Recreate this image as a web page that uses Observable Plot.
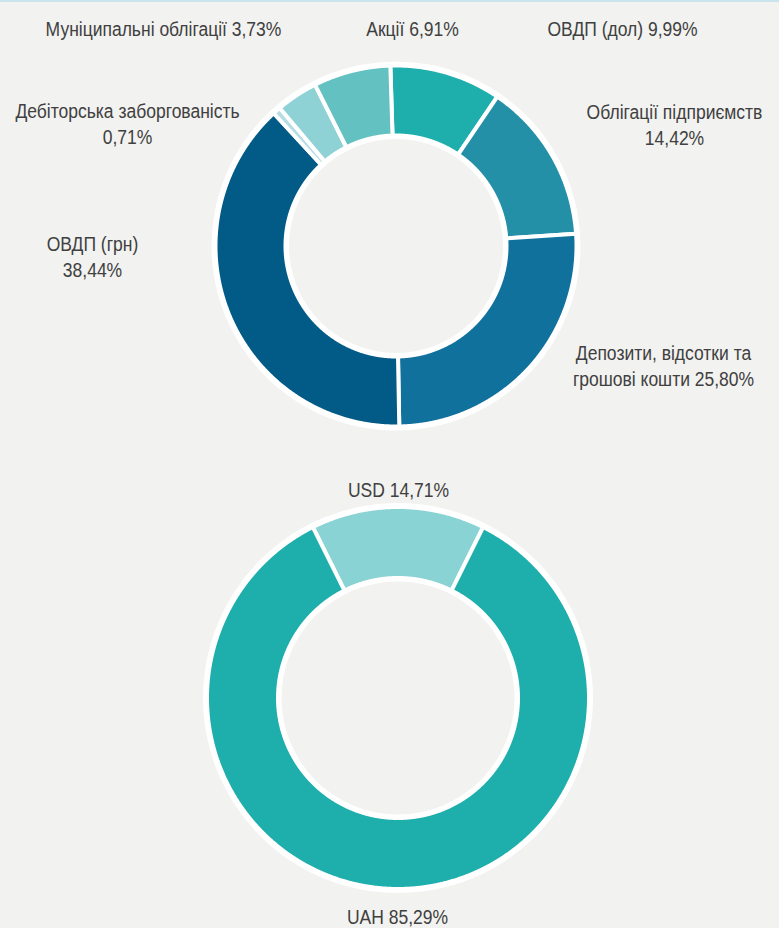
<!DOCTYPE html>
<html><head><meta charset="utf-8">
<script src="https://cdn.jsdelivr.net/npm/d3@7"></script>
<script src="https://cdn.jsdelivr.net/npm/@observablehq/plot@0.6"></script>
<style>
html,body{margin:0;padding:0;background:#f2f2f0;}
#wrap{position:relative;width:779px;height:928px;overflow:hidden;}
#topline{position:absolute;left:0;top:0;width:779px;height:2px;background:#c9e4ec;}
</style></head><body>
<div id="wrap"><div id="chart"></div><div id="topline"></div></div>
<script>
// ---- data ----
const assetNames = ["ОВДП (дол)", "Облігації підприємств\n", "Депозити, відсотки та\nгрошові кошти", "ОВДП (грн)\n", "Дебіторська заборгованість\n", "Муніципальні облігації", "Акції"];
const assetShares = [9.99, 14.42, 25.80, 38.44, 0.71, 3.73, 6.91];
const assetColors = ["#1eaeac", "#2490a8", "#10719c", "#025b87", "#b5dde3", "#8ed2d5", "#63c1c1"];
const currencyNames = ["USD", "UAH"];
const currencyShares = [14.71, 85.29];
const currencyColors = ["#8ad3d5", "#1eaeac"];

// ---- layout (not data) ----
const assetLabelPos = [[622, 27], [674, 123], [663, 364], [92, 255], [127, 122], [163, 27], [412, 27]];
const currencyLabelPos = [[398, 488], [397, 915]];

const fmt = v => d3.format(".2f")(v).replace(".", ",");
const labelText = (n, v) => n.endsWith("\n") ? n + fmt(v) + "%" : n + " " + fmt(v) + "%";

const donuts = [
  {names: assetNames, shares: assetShares, colors: assetColors, pos: assetLabelPos,
   cx: 395.5, cy: 245.5, ri: 110.5, ro: 180.5, start: -1.8},
  {names: currencyNames, shares: currencyShares, colors: currencyColors, pos: currencyLabelPos,
   cx: 397.5, cy: 697.5, ri: 120, ro: 191, start: -currencyShares[0] / 100 * 180}
];

const pts = [], discs = [], holes = [], labels = [];
donuts.forEach((d, di) => {
  discs.push({x: d.cx, y: d.cy, r: d.ro + 4});
  holes.push({x: d.cx, y: d.cy, r: d.ri - 3.5});
  let acc = d.start;
  d.shares.forEach((s, i) => {
    const a0 = acc, a1 = acc + s * 3.6;
    acc = a1;
    const id = di + "-" + i;
    const n = Math.max(2, Math.ceil((a1 - a0) / 0.25));
    const ring = [];
    for (let k = 0; k <= n; k++) {
      const a = (a0 + (a1 - a0) * k / n) * Math.PI / 180;
      ring.push([d.cx + d.ro * Math.sin(a), d.cy - d.ro * Math.cos(a)]);
    }
    for (let k = n; k >= 0; k--) {
      const a = (a0 + (a1 - a0) * k / n) * Math.PI / 180;
      ring.push([d.cx + d.ri * Math.sin(a), d.cy - d.ri * Math.cos(a)]);
    }
    ring.push(ring[0]);
    ring.forEach(([x, y]) => pts.push({id, x, y, color: d.colors[i]}));
    labels.push({x: d.pos[i][0], y: d.pos[i][1], text: labelText(d.names[i], s)});
  });
});

const chart = Plot.plot({
  width: 779, height: 928, margin: 0,
  x: {domain: [0, 779], range: [0, 779], axis: null},
  y: {domain: [0, 928], range: [0, 928], axis: null},
  r: {type: "identity"},
  color: {type: "identity"},
  style: {background: "#f2f2f0", fontFamily: "'Liberation Sans', Arial, sans-serif"},
  marks: [
    Plot.dot(discs, {x: "x", y: "y", r: "r", fill: "white", stroke: "none"}),
    Plot.dot(holes, {x: "x", y: "y", r: "r", fill: "#f2f2f0", stroke: "none"}),
    Plot.line(pts, {x: "x", y: "y", z: "id", fill: "color", stroke: "white", strokeWidth: 4, curve: "linear"}),
    Plot.text(labels, {x: "x", y: "y", text: "text", fontSize: 20, lineHeight: 1.3, fill: "#404040", textAnchor: "middle", className: "lbl"})
  ]
});
// condense label glyphs horizontally (Arial Narrow look)
chart.querySelectorAll("g.lbl text").forEach(t => {
  const tr = t.getAttribute("transform") || "";
  t.setAttribute("transform", tr + " scale(0.875,1)");
});
document.getElementById("chart").appendChild(chart);
</script>
</body></html>
